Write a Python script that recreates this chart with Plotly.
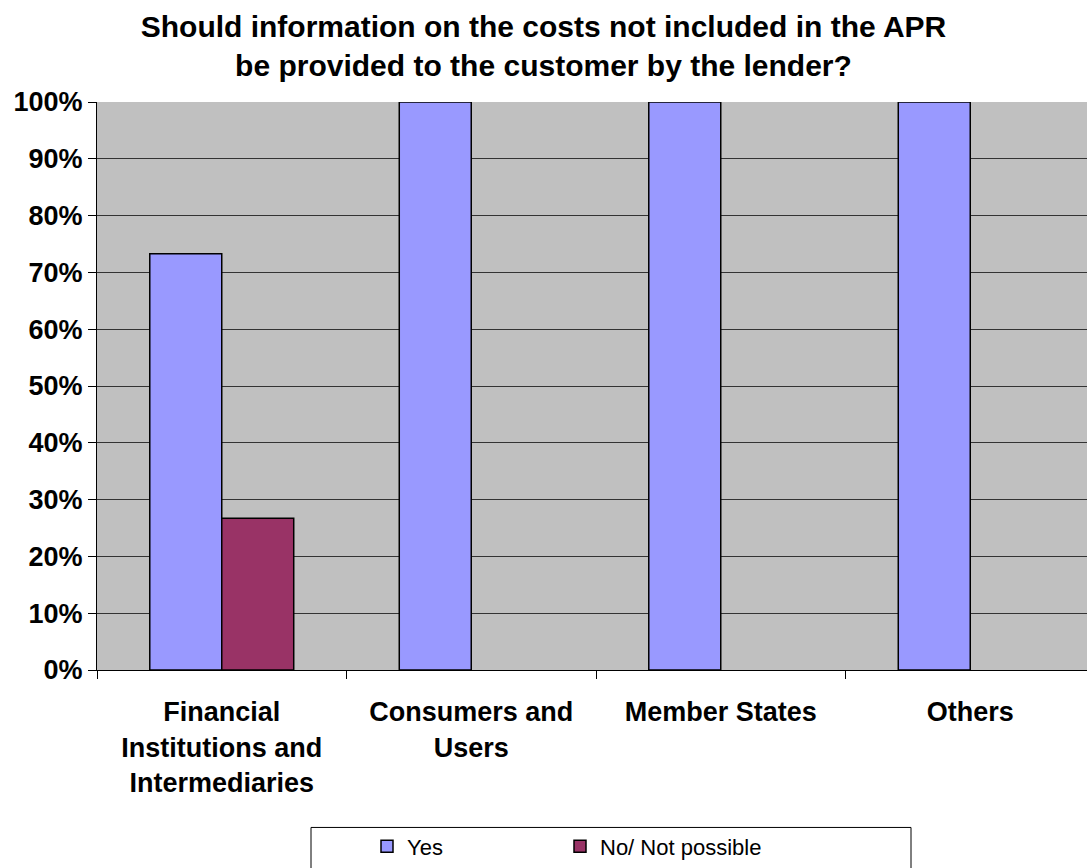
import plotly.graph_objects as go

# Survey responses by stakeholder group (share of respondents)
categories = [
    "Financial<br>Institutions and<br>Intermediaries",
    "Consumers and<br>Users",
    "Member States",
    "Others",
]
yes_share = [0.733, 1.0, 1.0, 1.0]
no_share = [0.267, 0.0, 0.0, 0.0]
series_names = ["Yes", "No/ Not possible"]
y_ticks = [0, 0.1, 0.2, 0.3, 0.4, 0.5, 0.6, 0.7, 0.8, 0.9, 1.0]

FONT = "Liberation Sans, Arial, sans-serif"
W, H = 1087, 868
ML, MR, MT, MB = 97, 0, 102, 196
PW = W - ML - MR
PH = H - MT - MB


def px_x(px):
    return (px - ML) / PW


def px_y(py):
    return (H - MB - py) / PH


def outline_widths(values):
    # empty bars get no outline so they don't leave a stub on the baseline
    return [1.5 if v > 0 else 0 for v in values]


fig = go.Figure()
fig.add_trace(go.Bar(
    name=series_names[0], x=categories, y=yes_share,
    marker=dict(color="#9999FF",
                line=dict(color="black", width=outline_widths(yes_share))),
    legend="legend", showlegend=True,
))
fig.add_trace(go.Bar(
    name=series_names[1], x=categories, y=no_share,
    marker=dict(color="#993366",
                line=dict(color="black", width=outline_widths(no_share))),
    legend="legend2", showlegend=True,
))

# legend frame
fig.add_shape(
    type="rect", xref="paper", yref="paper",
    x0=px_x(311), x1=px_x(911), y0=px_y(830), y1=px_y(900),
    line=dict(color="black", width=1), fillcolor="white", layer="below",
)

legend_common = dict(
    orientation="h",
    xanchor="left",
    y=px_y(849), yanchor="middle",
    bgcolor="rgba(0,0,0,0)", borderwidth=0,
    font=dict(family=FONT, size=22, color="black"),
)

fig.update_layout(
    width=W, height=H,
    margin=dict(l=ML, r=MR, t=MT, b=MB),
    paper_bgcolor="white",
    plot_bgcolor="#C0C0C0",
    showlegend=True,
    barmode="group",
    bargap=0.423,
    bargroupgap=0,
    font=dict(family=FONT, color="black"),
    title=dict(
        text="<b>Should information on the costs not included in the APR<br>"
             "be provided to the customer by the lender?</b>",
        x=0.5, xanchor="center", xref="container",
        y=1 - 37 / H, yanchor="middle", yref="container",
        font=dict(family=FONT, size=30, color="black"),
    ),
    xaxis=dict(
        range=[-0.5, 3.5 - (ML + 4 * 249.5 - W) / 249.5],
        showline=True, linecolor="black", linewidth=1,
        ticks="outside", ticklen=8, tickcolor="black", tickwidth=1,
        tickson="boundaries",
        ticklabelstandoff=18,
        showgrid=False,
        tickfont=dict(family=FONT, size=27, color="black", weight="bold"),
        fixedrange=True,
    ),
    yaxis=dict(
        range=[0, 1],
        tickvals=y_ticks, tickformat=".0%",
        showline=True, linecolor="black", linewidth=1,
        ticks="outside", ticklen=8, tickcolor="black", tickwidth=1,
        showgrid=True, gridcolor="#333333", gridwidth=1,
        zeroline=False,
        tickfont=dict(family=FONT, size=27, color="black", weight="bold"),
        fixedrange=True,
    ),
    legend=dict(x=px_x(367), **legend_common),
    legend2=dict(x=px_x(560), **legend_common),
)

fig.write_html("out.html")
